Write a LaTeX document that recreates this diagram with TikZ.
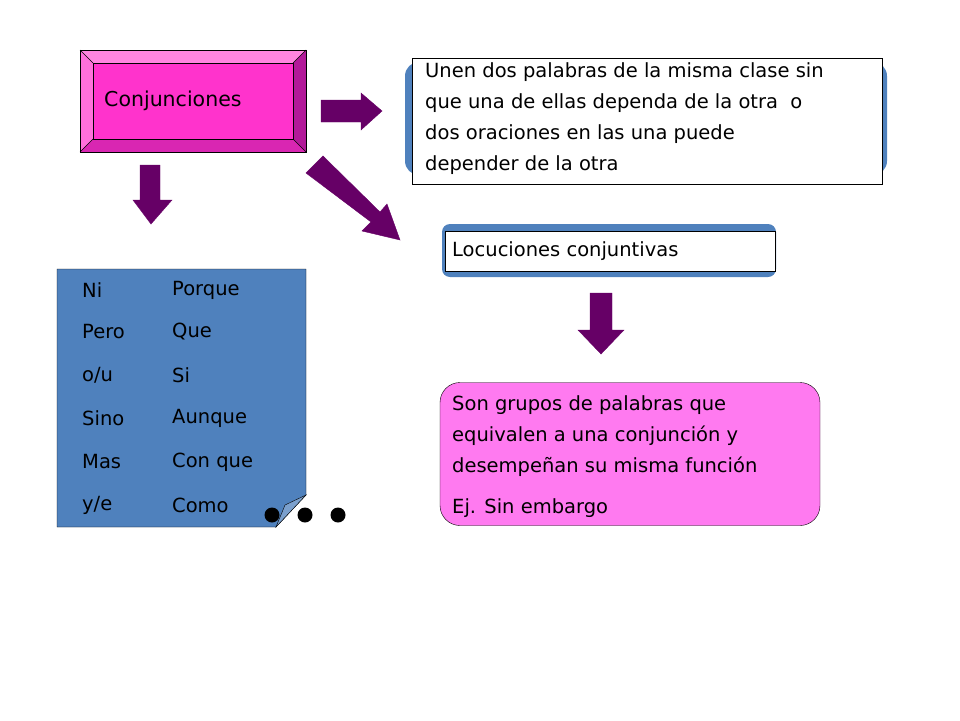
\documentclass[tikz,border=0pt]{standalone}
\usepackage{fontspec}
\setmainfont{DejaVu Sans}
\usetikzlibrary{arrows.meta}
\definecolor{bblue}{HTML}{4F81BD}
\definecolor{apurp}{HTML}{660066}
\definecolor{pinkA}{HTML}{FF33CC}
\definecolor{pinkB}{HTML}{FF7AF0}
\tikzset{
 txt/.style={anchor=west,inner sep=0pt,font=\fontsize{19.5}{31}\selectfont},
 bigarrow/.style={draw=apurp,fill=apurp},
}
\begin{document}
\begin{tikzpicture}[x=1pt,y=-1pt]
\useasboundingbox (0,0) rectangle (960,720);
% Conjunciones bevel box
\fill[pinkA!60!white] (80,50) -- (306,50) -- (293,63) -- (93,63) -- cycle;
\fill[pinkA!70!white] (80,50) -- (93,63) -- (93,139) -- (80,152) -- cycle;
\fill[pinkA!50!apurp] (306,50) -- (306,152) -- (293,139) -- (293,63) -- cycle;
\fill[pinkA!75!apurp] (80,152) -- (306,152) -- (293,139) -- (93,139) -- cycle;
\node[draw=black,fill=pinkA,minimum width=200,minimum height=76,inner sep=0pt] (conj) at (193,101) {};
\draw (80,50) rectangle (306,152);
\draw (80,50)--(93,63) (306,50)--(293,63) (80,152)--(93,139) (306,152)--(293,139);
\node[txt,font=\fontsize{20.5}{24}\selectfont] (conjt) at (104,101) {Conjunciones};
% arrows
\draw[bigarrow] (321,100) -- (361,100) -- (361,93) -- (382,111) -- (361,130) -- (361,122) -- (321,122) -- cycle;
\draw[bigarrow] (140,165) -- (160,165) -- (160,200) -- (172,200) -- (151,224) -- (133,200) -- (140,200) -- cycle;
\draw[bigarrow] (306,173) -- (323,156) -- (380,212) -- (387,204) -- (400,240) -- (362,231) -- (371,222) -- cycle;
\draw[bigarrow] (590,293) -- (612,293) -- (612,330) -- (624,330) -- (601,354) -- (578,330) -- (590,330) -- cycle;
% definition box
\fill[bblue,rounded corners=14] (405,62) rectangle (887,175);
\node[draw=black,fill=white,minimum width=470,minimum height=126,inner sep=0pt] (def) at (647,121) {};
\node[txt,align=left,anchor=north west,font=\fontsize{19.5}{31}\selectfont] (deft) at (425,62) {Unen dos palabras de la misma clase sin\\que una de ellas dependa de la otra\ \ o\\dos oraciones en las una puede\\depender de la otra};
% locuciones
\fill[bblue,rounded corners=8] (442,224) rectangle (776,277);
\node[draw=black,fill=white,minimum width=330,minimum height=40,inner sep=0pt] (loc) at (610,251) {};
\node[txt] (loct) at (452,251) {Locuciones conjuntivas};
% pink box
\node[draw=black,fill=pinkB,rounded corners=20,minimum width=380,minimum height=143,inner sep=0pt] (son) at (630,454) {};
\node[txt,align=left,anchor=north west] (sont) at (452,395) {Son grupos de palabras que\\equivalen a una conjunción y\\desempeñan su misma función};
\node[txt] (ej) at (452,508) {Ej. Sin embargo};
% note
\draw[fill=bblue] (57,269) -- (306,269) -- (306,495) -- (276,527) -- (57,527) -- cycle;
\draw[fill=bblue!75!white] (276,527) -- (285,505) -- (306,495) -- cycle;
\node[txt] (a1) at (82,290) {Ni}; \node[txt] (b1) at (172,290) {Porque};
\node[txt] (a2) at (82,332) {Pero}; \node[txt] (b2) at (172,332) {Que};
\node[txt] (a3) at (82,375) {o/u}; \node[txt] (b3) at (172,375) {Si};
\node[txt] (a4) at (82,418) {Sino}; \node[txt] (b4) at (172,418) {Aunque};
\node[txt] (a5) at (82,462) {Mas}; \node[txt] (b5) at (172,462) {Con que};
\node[txt] (a6) at (82,505) {y/e}; \node[txt] (b6) at (172,505) {Como};
\fill (272,515) circle (7.5) (305,515) circle (7.5) (338,515) circle (7.5);
\end{tikzpicture}
\end{document}
